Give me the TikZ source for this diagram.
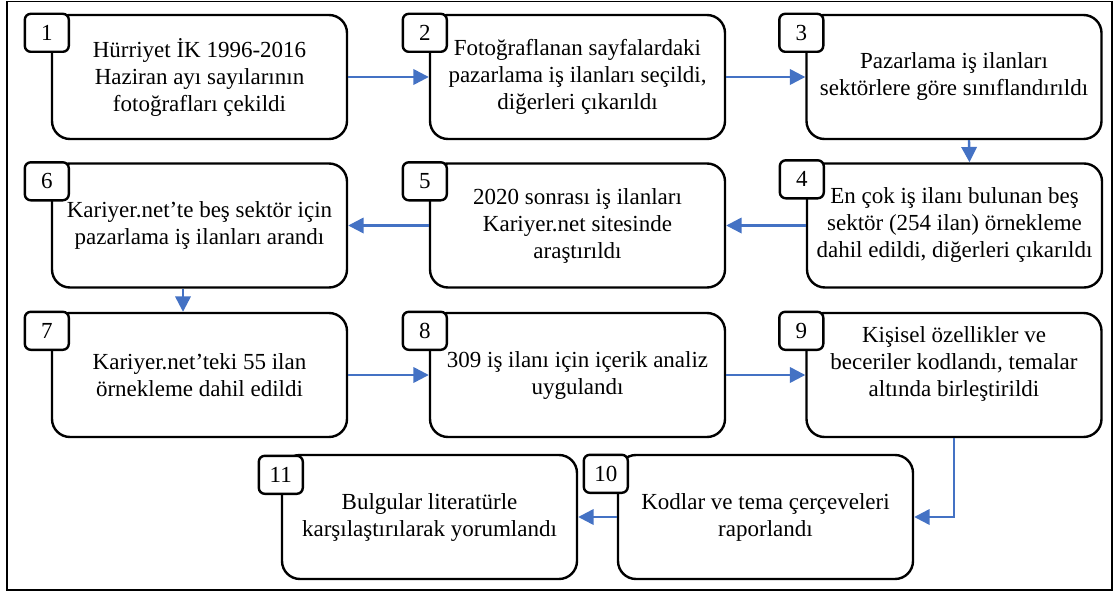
\documentclass[tikz,border=0pt]{standalone}
\usepackage{fontspec}
\setmainfont{Liberation Serif}
\usepackage{tikz}
\usetikzlibrary{arrows.meta}
\definecolor{flowblue}{HTML}{4472C4}

\begin{document}
\begin{tikzpicture}[x=0.75pt, y=-0.75pt,
  every node/.style={font=\fontsize{17.25}{20.25}\selectfont},
  stepbox/.style={draw, fill=white, line width=1.8pt, rounded corners=13.5pt, minimum width=221.25pt, minimum height=93pt, inner sep=0pt, align=center},
  numtab/.style={draw, fill=white, line width=1.8pt, rounded corners=4.5pt, minimum width=33pt, minimum height=28.5pt, inner sep=0pt},
  flow/.style={draw=flowblue, line width=1.8pt, -{Triangle[length=11.5pt, width=11.5pt]}}]
  \useasboundingbox (0,0) rectangle (1114,592);
  \draw[line width=1.2pt] (7,1.5) rectangle (1112,590);
  \node[stepbox] (b1) at (199.5,77) {Hürriyet İK 1996-2016\\Haziran ayı sayılarının\\fotoğrafları çekildi};
  \node[stepbox] (b2) at (577.5,77) {Fotoğraflanan sayfalardaki\\pazarlama iş ilanları seçildi,\\diğerleri çıkarıldı};
  \node[stepbox] (b3) at (954,77) {Pazarlama iş ilanları\\sektörlere göre sınıflandırıldı};
  \node[stepbox] (b4) at (954.5,225.5) {En çok iş ilanı bulunan beş\\sektör (254 ilan) örnekleme\\dahil edildi, diğerleri çıkarıldı};
  \node[stepbox] (b5) at (577.5,225.5) {2020 sonrası iş ilanları\\Kariyer.net sitesinde\\araştırıldı};
  \node[stepbox] (b6) at (199.5,225.5) {Kariyer.net’te beş sektör için\\pazarlama iş ilanları arandı};
  \node[stepbox] (b7) at (199.5,375) {Kariyer.net’teki 55 ilan\\örnekleme dahil edildi};
  \node[stepbox] (b8) at (577.5,375) {309 iş ilanı için içerik analiz\\uygulandı};
  \node[stepbox] (b9) at (954,375) {Kişisel özellikler ve\\beceriler kodlandı, temalar\\altında birleştirildi\\\mbox{}};
  \node[stepbox] (b10) at (765.5,517) {Kodlar ve tema çerçeveleri\\raporlandı};
  \node[stepbox] (b11) at (429.5,517) {Bulgular literatürle\\karşılaştırılarak yorumlandı};
  \node[numtab] (n1) at ([shift={(-4,19)}]b1.north west) {1};
  \node[numtab] (n2) at ([shift={(-4,19)}]b2.north west) {2};
  \node[numtab] (n3) at ([shift={(-4,19)}]b3.north west) {3};
  \node[numtab] (n4) at ([shift={(-4,17)}]b4.north west) {4};
  \node[numtab] (n5) at ([shift={(-4,19)}]b5.north west) {5};
  \node[numtab] (n6) at ([shift={(-4,19)}]b6.north west) {6};
  \node[numtab] (n7) at ([shift={(-4,19)}]b7.north west) {7};
  \node[numtab] (n8) at ([shift={(-4,19)}]b8.north west) {8};
  \node[numtab] (n9) at ([shift={(-4,19)}]b9.north west) {9};
  \node[numtab] (n10) at ([shift={(-11,20)}]b10.north west) {10};
  \node[numtab] (n11) at ([shift={(-0,21)}]b11.north west) {11};
  \draw[flow] (b1.east) -- (b2.west);
  \draw[flow] (b2.east) -- (b3.west);
  \draw[flow] ([shift={(15,0)}]b3.south) -- ([shift={(15,0)}]b4.north);
  \draw[flow] (b4.west) -- (b5.east);
  \draw[flow] (b5.west) -- (b6.east);
  \draw[flow] ([shift={(-16.5,0)}]b6.south) -- ([shift={(-16.5,0)}]b7.north);
  \draw[flow] (b7.east) -- (b8.west);
  \draw[flow] (b8.east) -- (b9.west);
  \draw[flow] (b9.south) |- (b10.east);
  \draw[flow] (b10.west) -- (b11.east);
\end{tikzpicture}
\end{document}
